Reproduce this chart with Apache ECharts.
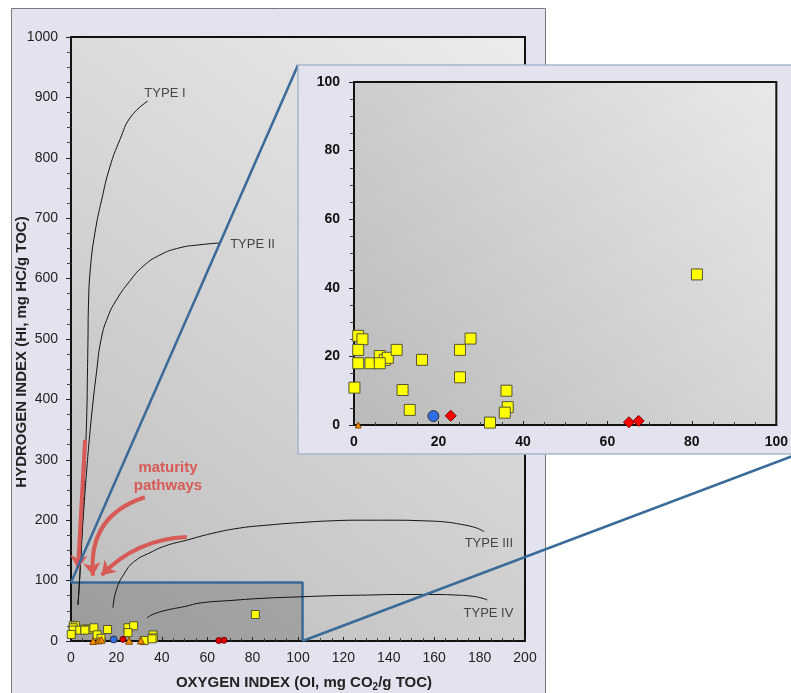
<!DOCTYPE html>
<html><head><meta charset="utf-8">
<script src="https://cdn.jsdelivr.net/npm/echarts@6/dist/echarts.min.js"></script>
<style>html,body{margin:0;padding:0;background:#fff}#c{width:791px;height:693px}</style>
</head><body><div id="c"></div>
<script>
// ---------- data (OI, HI) ----------
const yellowSquares = [[1.0,26.0],[2.0,25.0],[1.0,21.9],[1.0,18.0],[0.1,10.9],[3.9,18.0],[6.1,20.1],[7.3,19.0],[8.0,19.6],[6.1,18.0],
  [10.1,21.9],[11.5,10.2],[13.2,4.4],[16.1,19.0],[25.1,21.9],[27.6,25.2],[25.1,13.9],[32.2,0.7],[36.1,10.0],[36.4,5.2],[35.7,3.6],[81.2,43.9]];
const mainTriangles = [[9.8,0],[12.2,1],[13.4,2],[25.6,0.5],[30.8,1]];
const insetTriangles = [[1.0,0]];
const blueCircles = [[18.8,2.6]];
const redPoints = [[22.9,2.7],[65.1,0.8],[67.4,1.2]];
const typeI = [[3.08,60],[3.96,113],[4.70,167],[5.41,222],[6.02,278],[6.59,333],[7.03,389],[7.25,444],[7.47,498],[7.69,556],[8.57,618],[10.55,676],[13.49,730],[17.14,785],[21.54,830],[26.37,868],[33.85,894]];
const typeII = [[3.08,60],[3.96,113],[4.75,167],[5.71,222],[6.81,278],[8.04,333],[9.45,387],[11.21,444],[13.19,498],[16.26,537],[20.22,566],[25.7,595],[31.65,620],[39.12,639],[47.91,651],[56.70,656],[65.49,659]];
const typeIII = [[18.5,55],[20,85],[23.7,113],[28,132],[34.7,146],[42,158],[51,167],[62,178],[74.3,187],[87,192],[100.7,196],[115,199],[128,200],[142,200],[155,199],[165,197],[172,193],[177,189],[180,185],[182,181]];
const typeIV = [[33.4,38],[36,44],[42,51],[50,57],[57,63],[70,67],[86,71],[100,73],[115,75],[130,76],[145,77],[160,77],[170,76],[177,74],[181,71],[183.4,68]];
const curveLabels = [[32.1,906,'TYPE I'],[69.9,656,'TYPE II'],[173.2,162,'TYPE III'],[172.7,46,'TYPE IV']];
const arrowPaths = [[[6.2,333],[3.1,120]],[[32.5,238],[9.7,108]],[[51,172],[13.5,109]]];
const arrowBend = [0, -0.4, -0.2];
const zoomBox = [102, 97]; // OI, HI extent of the zoomed region
const mainXTicks = [0,200,20], mainYTicks = [0,1000,100], insetTicks = [0,100,20];

// ---------- layout ----------
const FONT = 'Liberation Sans, Arial, sans-serif';
const FRAME = {x:11, y:8, width:534, height:700};
const PANEL = {x:298, y:65, width:500, height:389};
const BLUE = '#3a6a98';
const RED = '#d85a56';

const chart = echarts.init(document.getElementById('c'), null, {renderer:'canvas'});
const grad = (a,b) => new echarts.graphic.LinearGradient(0,1,1,0,[{offset:0,color:a},{offset:1,color:b}]);
const plain = v => String(v);

function axisX(gi, t, bold, z){
  return {gridIndex:gi, type:'value', min:t[0], max:t[1], interval:t[2], z:z,
    axisLine:{onZero:false, lineStyle:{color:'#111', width:2}},
    axisTick:{inside:true, length:4, lineStyle:{color:'#222'}},
    minorTick:{show:true, splitNumber:4, length:3, lineStyle:{color:'#444'}},
    splitLine:{show:false},
    axisLabel:{formatter:plain, alignMaxLabel:'center', alignMinLabel:'center', fontFamily:FONT, fontSize:14, fontWeight: bold?'bold':'normal', color: bold?'#111':'#222', margin:10}};
}
function axisY(gi, t, bold, z, margin){
  return {gridIndex:gi, type:'value', min:t[0], max:t[1], interval:t[2], z:z,
    axisLine:{onZero:false, lineStyle:{color:'#111', width:2}},
    axisTick:{inside:false, length:5, lineStyle:{color:'#222'}},
    minorTick:{show:true, splitNumber:4, length:4, lineStyle:{color:'#444'}},
    splitLine:{show:false},
    axisLabel:{formatter:plain, fontFamily:FONT, fontSize:14, fontWeight: bold?'bold':'normal', color: bold?'#111':'#222', margin:margin}};
}
function curve(d){
  return {type:'line', xAxisIndex:0, yAxisIndex:0, data:d, smooth:0.5, showSymbol:false, z:3,
    lineStyle:{color:'#111', width:1}, silent:true};
}
function pts(d, sym, size, color, border, xi, z){
  return {type:'scatter', xAxisIndex:xi, yAxisIndex:xi, data:d, symbol:sym, symbolSize:size, z:z, clip:false,
    itemStyle:{color:color, borderColor:border, borderWidth:1, opacity:1}};
}

const option = {
  animation:false,
  backgroundColor:'#ffffff',
  grid:[
    {left:71, top:37, width:454, height:604, show:true, backgroundColor:grad('#bcbcbc','#ececec'), borderColor:'#111', borderWidth:2, z:0},
    {left:354, top:82, width:428, height:343, show:true, backgroundColor:grad('#bababa','#e9e9e9'), borderColor:'#111', borderWidth:2, z:10}
  ],
  xAxis:[axisX(0, mainXTicks, false, 1), axisX(1, insetTicks, true, 11)],
  yAxis:[axisY(0, mainYTicks, false, 1, 13), axisY(1, insetTicks, true, 11, 14)],
  series:[
    {type:'line', xAxisIndex:0, yAxisIndex:0, z:3, showSymbol:false, silent:true,
      data:[[0,zoomBox[1]],[zoomBox[0],zoomBox[1]],[zoomBox[0],0]],
      lineStyle:{color:BLUE, width:2.5},
      markArea:{silent:true, itemStyle:{color:'rgba(40,40,40,0.22)'}, data:[[{coord:[0,0]},{coord:[zoomBox[0],zoomBox[1]]}]]}},
    curve(typeI), curve(typeII), curve(typeIII), curve(typeIV),
    {type:'scatter', xAxisIndex:0, yAxisIndex:0, z:3, symbolSize:1, itemStyle:{color:'rgba(0,0,0,0)'},
      data:curveLabels,
      label:{show:true, position:'right', distance:0, formatter:p=>p.value[2], fontFamily:FONT, fontSize:13, color:'#222'}},
    {type:'lines', coordinateSystem:'cartesian2d', xAxisIndex:0, yAxisIndex:0, z:4, silent:true,
      symbol:['none','arrow'], symbolSize:[1,13],
      lineStyle:{color:RED, width:4, opacity:1},
      data:arrowPaths.map((c,i)=>({coords:c, lineStyle:{curveness:arrowBend[i]}}))},
    pts(yellowSquares,'rect',8,'#ffff00','#555533',0,5),
    pts(mainTriangles,'triangle',7,'#f08a00','#8a4a00',0,6),
    pts(blueCircles,'circle',7,'#2f6fe6','#333',0,6),
    pts(redPoints,'circle',6,'#e00000','#700',0,6),
    pts(yellowSquares,'rect',11,'#ffff00','#555533',1,12),
    pts(insetTriangles,'triangle',6,'#f08a00','#8a4a00',1,13),
    pts(blueCircles,'circle',11,'#2f6fe6','#333',1,13),
    pts(redPoints,'diamond',11,'#ff0000','#700',1,13)
  ]
};
chart.setOption(option);

const a = chart.convertToPixel({gridIndex:0}, [0, zoomBox[1]]);
const b = chart.convertToPixel({gridIndex:0}, [zoomBox[0], 0]);
chart.setOption({graphic:{elements:[
  {type:'rect', z:-10, shape:{x:FRAME.x+0.5, y:FRAME.y+0.5, width:FRAME.width, height:FRAME.height},
    style:{fill:'#e3e3ef', stroke:'#7a7a7a', lineWidth:1}},
  {type:'line', z:7, shape:{x1:a[0], y1:a[1], x2:PANEL.x, y2:PANEL.y}, style:{stroke:BLUE, lineWidth:2.5}},
  {type:'line', z:7, shape:{x1:b[0], y1:b[1], x2:PANEL.x+PANEL.width, y2:PANEL.y+PANEL.height}, style:{stroke:BLUE, lineWidth:2.5}},
  {type:'rect', z:8, shape:{x:PANEL.x, y:PANEL.y, width:PANEL.width, height:PANEL.height},
    style:{fill:'#e3e3ef', stroke:'#a7b5ca', lineWidth:1.5}},
  {type:'text', z:8, x:22, y:352, rotation:Math.PI/2,
    style:{text:'HYDROGEN INDEX (HI, mg HC/g TOC)', font:'bold 15px '+FONT, fill:'#222', align:'center', verticalAlign:'middle'}},
  {type:'text', z:8, x:304, y:683,
    style:{text:'{a|OXYGEN INDEX (OI, mg CO}{s|2}{a|/g TOC)}', align:'center', verticalAlign:'middle',
      rich:{a:{font:'bold 15px '+FONT, fill:'#222'}, s:{font:'bold 10px '+FONT, fill:'#222', padding:[8,0,0,0]}}}},
  {type:'text', z:8, x:168, y:477,
    style:{text:'maturity\npathways', font:'bold 15px '+FONT, fill:RED, align:'center', verticalAlign:'middle', lineHeight:18}}
]}});
</script>
</body></html>
